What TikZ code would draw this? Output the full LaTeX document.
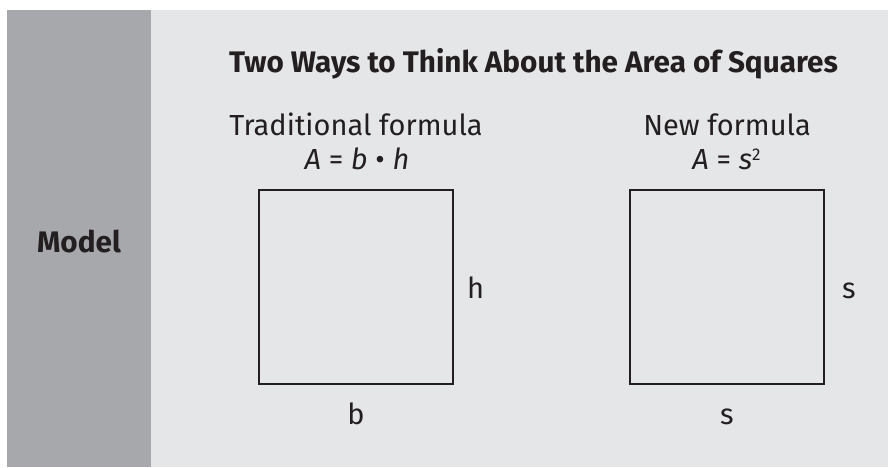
\documentclass[tikz,border=0pt]{standalone}
\usepackage{fontspec}
\setmainfont{Fira Sans}
\definecolor{darkpanel}{HTML}{A7A8AB}
\definecolor{lightpanel}{HTML}{E5E6E8}
\definecolor{ink}{HTML}{231F20}
\begin{document}
\begin{tikzpicture}[x=1pt,y=-1pt,
  txt/.style={inner sep=0pt, anchor=base, text=ink, font=\fontsize{29}{34}\selectfont},
  boldtxt/.style={txt, font=\fontsize{29.7}{34}\selectfont\bfseries},
  sq/.style={draw=ink, line width=2.8pt, minimum width=194pt, minimum height=194pt, inner sep=0pt}]
\useasboundingbox (0,0) rectangle (888,467);
\fill[white] (0,0) rectangle (888,467);
\fill[darkpanel] (7,10) rectangle (151,467);
\fill[lightpanel] (151,10) rectangle (888,467);
\node[boldtxt] (title) at (533.5,72) {Two Ways to Think About the Area of Squares};
\node[boldtxt] (model) at (79,252) {Model};
\node[txt] (trad) at (356,135) {Traditional formula};
\node[txt] (f1) at (357,169) {\textit{A} = \textit{b} • \textit{h}};
\node[txt] (new) at (727,135) {New formula};
\node[txt] (f2) at (726.5,169) {\textit{A} = \textit{s}\raisebox{9pt}{\fontsize{17}{20}\selectfont 2}};
\node[sq] (sq1) at (356,287) {};
\node[sq] (sq2) at (727,287) {};
\node[txt] (h) at (475.5,298) {h};
\node[txt] (b) at (356,424) {b};
\node[txt] (s1) at (849,298) {s};
\node[txt] (s2) at (727,424) {s};
\end{tikzpicture}
\end{document}
